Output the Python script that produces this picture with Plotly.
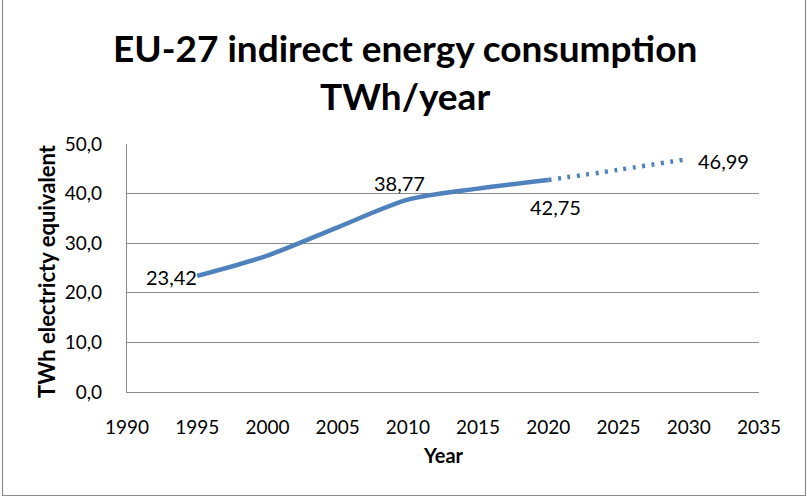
import plotly.graph_objects as go

years_actual = [1995, 2000, 2005, 2010, 2015, 2020]
values_actual = [23.42, 27.5, 33.2, 38.77, 41.0, 42.75]
years_proj = [2020, 2025, 2030]
values_proj = [42.75, 44.8, 46.99]

label_years = [1995, 2010, 2020, 2030]
label_values = [23.42, 38.77, 42.75, 46.99]
label_anchor = ["right", "center", "center", "left"]
label_dx = [2, -8, 7, 7]
label_dy = [-1, 17, -27, -2]

title_lines = ["EU-27 indirect energy consumption", "TWh/year"]
x_title = "Year"
y_title = "TWh electricty equivalent"

blue = "#4F81BD"
grid = "#8C8C8C"
FONT = "Lato"

fig = go.Figure()
fig.add_trace(go.Scatter(x=years_actual, y=values_actual, mode="lines",
                         line=dict(color=blue, width=4.5, shape="spline", smoothing=0.8),
                         hoverinfo="skip", showlegend=False))
fig.add_trace(go.Scatter(x=years_proj, y=values_proj, mode="lines",
                         line=dict(color=blue, width=4.5, shape="spline", dash="3px,6.5px"),
                         hoverinfo="skip", showlegend=False))

for xv, yv, anc, dx, dy in zip(label_years, label_values, label_anchor, label_dx, label_dy):
    fig.add_annotation(x=xv, y=yv, xref="x", yref="y", text=f"{yv:.2f}".replace(".", ","),
                       showarrow=False, xanchor=anc, yanchor="middle", xshift=dx, yshift=dy,
                       font=dict(family=FONT, size=20, color="#000"))

L, R, T, B = 127, 48, 144, 105
W, H = 807, 497
pw, ph = W - L - R, H - T - B

def px_x(p):
    return (p - L) / pw

def px_y(p):
    return (H - B - p) / ph

fig.add_shape(type="rect", xref="paper", yref="paper",
              x0=px_x(2.5), x1=px_x(805.5), y0=px_y(495.5), y1=px_y(-3),
              line=dict(color="#8C8C8C", width=1.2), layer="below")

fig.add_annotation(text=title_lines[0], xref="paper", yref="paper",
                   x=px_x(405), y=px_y(48), xanchor="center", yanchor="middle",
                   showarrow=False, font=dict(family=FONT, size=37, color="#000", weight="bold"))
fig.add_annotation(text=title_lines[1], xref="paper", yref="paper",
                   x=px_x(405), y=px_y(95), xanchor="center", yanchor="middle",
                   showarrow=False, font=dict(family=FONT, size=37, color="#000", weight="bold"))

fig.add_annotation(text=y_title, xref="paper", yref="paper",
                   x=px_x(46), y=px_y(271), xanchor="center", yanchor="middle", textangle=-90,
                   showarrow=False, font=dict(family=FONT, size=22, color="#000", weight="bold"))
fig.add_annotation(text=x_title, xref="paper", yref="paper",
                   x=px_x(443), y=px_y(455), xanchor="center", yanchor="middle",
                   showarrow=False, font=dict(family=FONT, size=20, color="#000", weight="bold"))

fig.update_layout(
    width=W, height=H,
    margin=dict(l=L, r=R, t=T, b=B, autoexpand=False),
    paper_bgcolor="white", plot_bgcolor="white",
    separators=", ",
    font=dict(family=FONT, size=19, color="#000"),
    xaxis=dict(range=[1990, 2035], dtick=5, tick0=1990, showgrid=False,
               showline=True, linecolor=grid, linewidth=1.3,
               ticks="outside", ticklen=18, tickcolor="rgba(0,0,0,0)",
               zeroline=False, fixedrange=True, automargin=False),
    yaxis=dict(range=[0, 50], dtick=10, tickformat=".1f", showgrid=True,
               gridcolor=grid, gridwidth=1.2,
               showline=True, linecolor=grid, linewidth=1.3,
               ticks="outside", ticklen=20, tickcolor="rgba(0,0,0,0)",
               zeroline=False, fixedrange=True, automargin=False),
)

fig.write_html("out.html", config={"displayModeBar": False},
               post_script="document.body.style.margin='0';")
